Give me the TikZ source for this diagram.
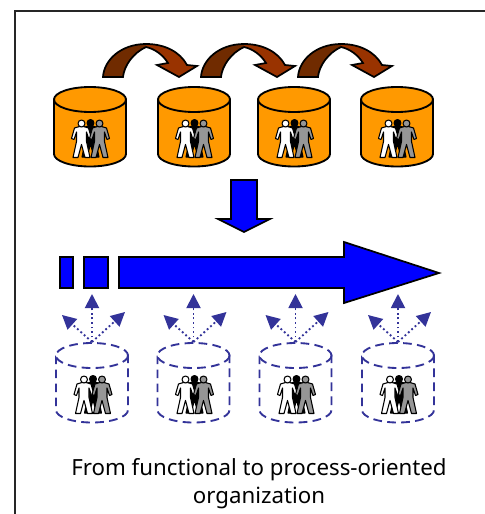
\documentclass[tikz,border=0pt]{standalone}
\usepackage{fontspec}
\setmainfont{Noto Sans}
\usetikzlibrary{arrows.meta}
\definecolor{cylorange}{HTML}{FF9900}
\definecolor{navyline}{HTML}{333399}
\definecolor{brownlight}{HTML}{993300}
\definecolor{browndark}{HTML}{702B00}
\definecolor{figgray}{HTML}{969696}
\definecolor{pureblue}{HTML}{0000FF}
\tikzset{
  x=0.75pt,y=-0.75pt,
  outline/.style={draw=black,line width=1.3pt,line join=miter},
  bluebar/.style={outline,fill=pureblue},
  solidcyl/.style={draw=black,line width=1.4pt,fill=cylorange},
  dashcyl/.style={draw=navyline,line width=1.4pt,dash pattern=on 6.5pt off 4pt,fill=white},
  figline/.style={draw=black,line width=0.8pt,line join=round},
  dotarrow/.style={draw=navyline,line width=1.4pt,dotted,-{Triangle[length=10.5pt,width=10.5pt]},shorten <=0pt},
  pics/person/.style={code={
    \path[figline,fill=#1] (-2,3) -- (-7,4.5) -- (-10,15) -- (-7.5,16) -- (-5,8.5) -- (-5,18) -- (-8.5,34)
      -- (-3.5,34) -- (0,21) -- (3.5,34) -- (8.5,34) -- (5,18) -- (5,8.5) -- (7.5,16) -- (10,15) -- (7,4.5) -- (2,3) -- cycle;
    \path[figline,fill=#1] (0,0) circle[radius=2.6pt];
  }},
  pics/group/.style={code={
    \pic at (0,0) {person=black};
    \pic at (-9,0.5) {person=white};
    \pic at (9,0.5) {person=figgray};
  }},
  pics/cyl/.style={code={
    \path[#1] (-36,0) -- (-36,54.5) .. controls (-36,61.4) and (-20,67) .. (0,67)
       .. controls (20,67) and (36,61.4) .. (36,54.5) -- (36,0) -- cycle;
    \path[#1] (0,0) ellipse[x radius=36,y radius=12.5];
  }},
  pics/curved/.style={code={
    \path[fill=browndark] (0,33) .. controls (1,16) and (18,0) .. (43,0) -- (44,3)
       .. controls (30,9) and (21,22) .. (20,33) -- cycle;
    \path[fill=brownlight] (43,0) .. controls (62,0) and (77,8) .. (84,21) -- (94,22) -- (76,33)
       -- (54,21) -- (65,19) .. controls (60,11) and (52,5) .. (43,3) -- cycle;
    \path[outline] (43,3) .. controls (30,9) and (21,22) .. (20,33) -- (0,33)
       .. controls (1,16) and (18,0) .. (43,0)
       .. controls (62,0) and (77,8) .. (84,21) -- (94,22) -- (76,33)
       -- (54,21) -- (65,19) .. controls (60,11) and (52,5) .. (43,3);
  }}
}
\begin{document}
\begin{tikzpicture}
\useasboundingbox (0,0) rectangle (485,514);
\draw[line width=1.5pt,draw=black!85] (14.5,514) -- (14.5,10.5) -- (485,10.5);
% curved arrows
\foreach \dx in {103,201,298} \pic at (\dx,44) {curved};
% top cylinders
\foreach \cx in {90,194,294,397} {
  \pic at (\cx,99.5) {cyl=solidcyl};
  \pic at (\cx+0.5,123) {group};
}
% down arrow
\path[bluebar] (231,180) -- (257,180) -- (257,219) -- (270,219) -- (244,232) -- (218,219) -- (231,219) -- cycle;
% process arrow
\path[bluebar] (60,257) rectangle (73,288);
\path[bluebar] (84,257) rectangle (108,288);
\path[bluebar] (119,257) -- (344,257) -- (344,242) -- (439,273) -- (344,303) -- (344,288) -- (119,288) -- cycle;
% bottom cylinders
\foreach \cx/\i in {92/1,193.5/2,295.5/3,398/4} {
  \coordinate (o\i) at (\cx,342);
  \coordinate (u\i) at (\cx,294);
  \coordinate (l\i) at (\cx-30,315);
  \coordinate (r\i) at (\cx+33,312);
  \draw[dotarrow] (o\i) -- (u\i);
  \draw[dotarrow] (o\i) -- (l\i);
  \draw[dotarrow] (o\i) -- (r\i);
  \pic at (\cx,355.5) {cyl=dashcyl};
  \pic at (\cx+1,379) {group};
}
\node[anchor=base,align=center,inner sep=0pt,font=\fontsize{16.7}{21}\selectfont] (caption) at (259,503)
  {From functional to process-oriented\\organization};
\end{tikzpicture}
\end{document}
